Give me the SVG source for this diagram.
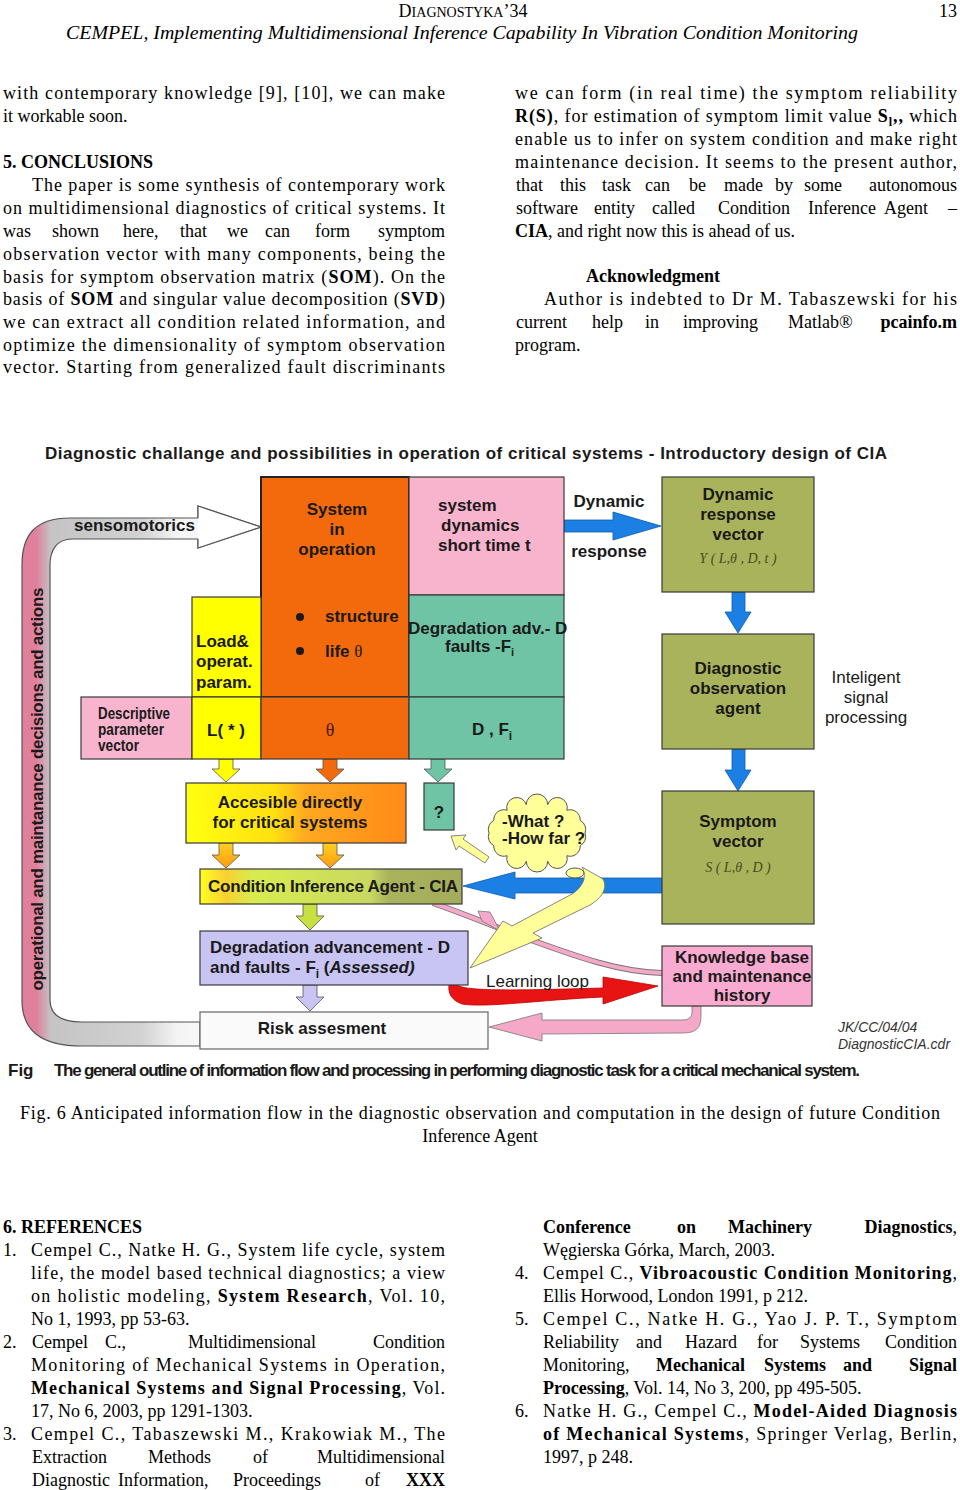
<svg xmlns="http://www.w3.org/2000/svg" width="960" height="1490" viewBox="0 0 960 1490">
<style>
.ser{font-family:"Liberation Serif","Times New Roman",serif;font-size:18px;fill:#000}
.b{font-weight:bold}
.dg{font-family:"Liberation Sans",Arial,sans-serif;font-weight:bold;font-size:17px;fill:#1a1a1a}
.dn{font-family:"Liberation Sans",Arial,sans-serif;font-size:17px;fill:#1a1a1a}
.box{stroke:#3a3a3a;stroke-width:1.2}
.blue{fill:#1b7fe3;stroke:#0d5cb0;stroke-width:0.8}
.sm{stroke:#555;stroke-width:0.8}
.math{font-family:"Liberation Serif","Times New Roman",serif;font-style:italic;font-size:14px}
</style>
<defs>
<linearGradient id="loopG" gradientUnits="userSpaceOnUse" x1="22" y1="0" x2="261" y2="0">
<stop offset="0" stop-color="#e0809c"/><stop offset="0.06" stop-color="#e0809c"/><stop offset="0.12" stop-color="#c4c4c4"/><stop offset="0.5" stop-color="#d2d2d2"/><stop offset="0.65" stop-color="#f4f4f4"/><stop offset="1" stop-color="#ffffff"/>
</linearGradient>
<linearGradient id="accG" x1="0" y1="0" x2="1" y2="0">
<stop offset="0" stop-color="#ffff10"/><stop offset="0.4" stop-color="#ffe010"/><stop offset="0.55" stop-color="#ffa820"/><stop offset="1" stop-color="#ff8a18"/>
</linearGradient>
<linearGradient id="ciaG" x1="0" y1="0" x2="1" y2="0">
<stop offset="0" stop-color="#ffff20"/><stop offset="0.1" stop-color="#f8d030"/><stop offset="0.2" stop-color="#d8ec50"/><stop offset="0.65" stop-color="#c8d860"/><stop offset="0.72" stop-color="#a9b35c"/><stop offset="1" stop-color="#a4ac5c"/>
</linearGradient>
<linearGradient id="oyG" x1="0" y1="0" x2="0" y2="1">
<stop offset="0" stop-color="#ffd020"/><stop offset="1" stop-color="#ff9a10"/>
</linearGradient>
</defs>
<rect width="960" height="1490" fill="#fff"/>

<!-- header -->
<g id="header">
<text x="463" y="17" text-anchor="middle" class="ser">D<tspan font-size="14">IAGNOSTYKA</tspan>’34</text>
<text x="957" y="17" text-anchor="end" class="ser">13</text>
<text x="66" y="39" class="ser" font-style="italic" textLength="792" lengthAdjust="spacingAndGlyphs">CEMPEL, Implementing Multidimensional Inference Capability In Vibration Condition Monitoring</text>
</g>

<!-- left column -->
<g id="leftcol" class="ser">
<text x="3" y="99" textLength="442" lengthAdjust="spacing">with contemporary knowledge [9], [10], we can make</text>
<text x="3" y="122">it workable soon.</text>
<text x="3" y="168" class="b">5. CONCLUSIONS</text>
<text x="32" y="191" textLength="413" lengthAdjust="spacing">The paper is some synthesis of contemporary work</text>
<text x="3" y="214" textLength="442" lengthAdjust="spacing">on multidimensional diagnostics of critical systems. It</text>
<text y="237"><tspan x="3">was</tspan><tspan x="52">shown</tspan><tspan x="123">here,</tspan><tspan x="180">that</tspan><tspan x="227">we</tspan><tspan x="265">can</tspan><tspan x="315">form</tspan></text>
<text x="445" y="237" text-anchor="end">symptom</text>
<text x="3" y="260" textLength="442" lengthAdjust="spacing">observation vector with many components, being the</text>
<text x="3" y="283" textLength="442" lengthAdjust="spacing">basis for symptom observation matrix (<tspan class="b">SOM</tspan>). On the</text>
<text x="3" y="305" textLength="442" lengthAdjust="spacing">basis of <tspan class="b">SOM</tspan> and singular value decomposition (<tspan class="b">SVD</tspan>)</text>
<text x="3" y="328" textLength="442" lengthAdjust="spacing">we can extract all condition related information, and</text>
<text x="3" y="351" textLength="442" lengthAdjust="spacing">optimize the dimensionality of symptom observation</text>
<text x="3" y="373" textLength="442" lengthAdjust="spacing">vector. Starting from generalized fault discriminants</text>
</g>

<!-- right column -->
<g id="rightcol" class="ser">
<text x="515" y="99" textLength="442" lengthAdjust="spacing">we can form (in real time) the symptom reliability</text>
<text x="515" y="122" textLength="442" lengthAdjust="spacing"><tspan class="b">R(S)</tspan>, for estimation of symptom limit value <tspan class="b">S<tspan font-size="12" dy="4">l</tspan><tspan dy="-4">,,</tspan></tspan> which</text>
<text x="515" y="145" textLength="442" lengthAdjust="spacing">enable us to infer on system condition and make right</text>
<text x="515" y="168" textLength="442" lengthAdjust="spacing">maintenance decision. It seems to the present author,</text>
<text y="191"><tspan x="516">that</tspan><tspan x="560">this</tspan><tspan x="602">task</tspan><tspan x="645">can</tspan><tspan x="689">be</tspan><tspan x="724">made</tspan><tspan x="775">by</tspan><tspan x="804">some</tspan></text>
<text x="957" y="191" text-anchor="end">autonomous</text>
<text y="214"><tspan x="516">software</tspan><tspan x="594">entity</tspan><tspan x="652">called</tspan><tspan x="718">Condition</tspan><tspan x="808">Inference</tspan><tspan x="884">Agent</tspan></text>
<text x="957" y="214" text-anchor="end">–</text>
<text x="515" y="237"><tspan class="b">CIA</tspan>, and right now this is ahead of us.</text>
<text x="586" y="282" class="b">Acknowledgment</text>
<text x="544" y="305" textLength="413" lengthAdjust="spacing">Author is indebted to Dr M. Tabaszewski for his</text>
<text y="328"><tspan x="516">current</tspan><tspan x="592">help</tspan><tspan x="645">in</tspan><tspan x="683">improving</tspan><tspan x="788">Matlab®</tspan></text>
<text x="957" y="328" text-anchor="end" class="b">pcainfo.m</text>
<text x="515" y="351">program.</text>
</g>

<!-- diagram title -->
<text x="45" y="459" class="dg" textLength="842" lengthAdjust="spacing">Diagnostic challange and possibilities  in operation of critical systems -  Introductory design of CIA</text>

<!-- connectors -->
<g id="connectors">
<path d="M200,1046 L82,1046 C40,1046 22,1030 22,1000 L22,565 C22,535 35,518 70,518 L198,518 L198,506 L261,527 L198,548 L198,539 L72,539 C57,539 50,550 50,565 L50,1000 C50,1014 60,1022 82,1022 L200,1022 Z" fill="url(#loopG)" stroke="#555" stroke-width="1.2"/>
<path d="M198,518 L198,506 L261,527 L198,548 L198,539" fill="#fff" stroke="#555" stroke-width="1.2"/>
<polygon class="blue" points="385,521 418,521 418,513 449,527 418,541 418,533 385,533"/>
<polygon class="blue" points="564,520 613,520 613,512 661,526 613,540 613,532 564,532"/>
<polygon class="blue" points="732,592 745,592 745,612 751,612 738,633 725,612 732,612"/>
<polygon class="blue" points="732,749 745,749 745,770 751,770 738,791 725,770 732,770"/>
<polygon class="blue" points="263,645 274,645 274,636 288,650 274,664 274,656 263,656"/>
<polygon class="blue" points="407,645 420,645 420,639 437,650 420,662 420,656 407,656"/>
<polygon class="blue" points="479,606 488,606 488,592 494,592 483,578 472,592 479,592"/>
<polygon class="blue" points="662,878 515,878 515,872 463,886 515,899 515,893 662,893"/>
<polygon class="sm" fill="#ffff00" points="219,759 233,759 233,769 240,769 226,782 212,769 219,769"/>
<polygon class="sm" fill="#f26a0c" points="323,759 337,759 337,769 344,769 330,782 316,769 323,769"/>
<polygon class="sm" fill="#6fc4a6" points="431,759 445,759 445,769 452,769 438,782 424,769 431,769"/>
<polygon class="sm" fill="url(#oyG)" points="219,843 233,843 233,855 240,855 226,868 212,855 219,855"/>
<polygon class="sm" fill="url(#oyG)" points="323,843 337,843 337,855 344,855 330,868 316,855 323,855"/>
<polygon class="sm" fill="#c8e040" points="303,904 317,904 317,916 324,916 310,930 296,916 303,916"/>
<polygon class="sm" fill="#c8c4f4" points="303,985 317,985 317,997 324,997 310,1011 296,997 303,997"/>
<path d="M433,903 C470,916 490,925 520,936 C580,958 620,972 662,973" fill="none" stroke="#777" stroke-width="6"/>
<path d="M433,903 C470,916 490,925 520,936 C580,958 620,972 662,973" fill="none" stroke="#f5a8c8" stroke-width="4"/>
<polygon points="478,911 482,921 500,931 490,912" fill="#f5a8c8" stroke="#777" stroke-width="0.8"/>
<path d="M449,985 L458,985 C464,992 530,990 603,988 L603,977 L658,986 L603,1004 L603,997 C540,1000 485,1008 462,1004 C451,1000 448,993 449,985 Z" fill="#e81414" stroke="#b00" stroke-width="0.8"/>
<path d="M692,1006 L701,1006 L701,1016 C701,1030 694,1033 682,1033 L542,1034 L542,1041 L489,1027 L542,1013 L542,1020 L682,1020 C689,1020 692,1017 692,1012 Z" fill="#f5a8c8" stroke="#777" stroke-width="0.8"/>
<path d="M582,867 L603,879 C608,888 602,898 590,905 L533,933 L542,938 L470,968 L503,921 L512,926 L572,894 C584,886 587,876 582,867 Z" fill="#ffff99" stroke="#666" stroke-width="0.8"/>
<polygon points="451,836 466,835 463,839 489,857 485,863 459,846 456,850" fill="#ffff99" stroke="#666" stroke-width="0.8"/>
</g>

<!-- nodes -->
<g id="n-system">
<rect x="261" y="477" width="148" height="220" fill="#f26a0c" stroke="#222" stroke-width="2"/>
<text class="dg" x="337" y="515" text-anchor="middle" fill="#4a1800">System</text>
<text class="dg" x="337" y="535" text-anchor="middle" fill="#4a1800">in</text>
<text class="dg" x="337" y="555" text-anchor="middle" fill="#4a1800">operation</text>
<circle cx="300" cy="617" r="4" fill="#1a1a1a"/>
<circle cx="300" cy="651" r="4" fill="#1a1a1a"/>
<text class="dg" x="325" y="622" fill="#4a1800">structure</text>
<text class="dg" x="325" y="657" fill="#4a1800">life <tspan font-family="Liberation Serif,serif" font-weight="normal">θ</tspan></text>
</g>
<g id="n-dynamics">
<rect x="409" y="477" width="155" height="118" fill="#f8b4cc" class="box"/>
<text class="dg" x="438" y="511" fill="#5a1030">system</text>
<text class="dg" x="441" y="531" fill="#5a1030">dynamics</text>
<text class="dg" x="438" y="551" fill="#5a1030">short time  t</text>
</g>
<g id="n-degradation">
<rect x="409" y="595" width="155" height="102" fill="#6fc4a6" class="box"/>
<text class="dg" x="408" y="634" font-size="15" fill="#1a1a40">Degradation adv.- D</text>
<text class="dg" x="445" y="652" font-size="15" fill="#1a1a40">faults -F<tspan font-size="11" dy="4">i</tspan></text>
</g>
<g id="n-load">
<rect x="192" y="597" width="69" height="100" fill="#ffff00" class="box"/>
<text class="dg" x="196" y="647">Load&amp;</text>
<text class="dg" x="196" y="667">operat.</text>
<text class="dg" x="196" y="688">param.</text>
</g>
<g id="n-descriptive">
<rect x="81" y="697" width="111" height="62" fill="#f8b4cc" class="box"/>
<text class="dg" x="98" y="719" font-size="10.5" fill="#4a1040" textLength="72" lengthAdjust="spacingAndGlyphs">Descriptive</text>
<text class="dg" x="98" y="735" font-size="10.5" fill="#4a1040" textLength="66" lengthAdjust="spacingAndGlyphs">parameter</text>
<text class="dg" x="98" y="751" font-size="10.5" fill="#4a1040" textLength="41" lengthAdjust="spacingAndGlyphs">vector</text>
</g>
<g id="n-L">
<rect x="192" y="697" width="69" height="62" fill="#ffff00" class="box"/>
<text class="dg" x="226" y="736" text-anchor="middle">L( * )</text>
</g>
<g id="n-theta">
<rect x="261" y="697" width="148" height="62" fill="#f26a0c" class="box"/>
<text x="330" y="736" text-anchor="middle" font-family="Liberation Serif,serif" font-size="18" fill="#4a1800">θ</text>
</g>
<g id="n-DF">
<rect x="409" y="697" width="155" height="62" fill="#6fc4a6" class="box"/>
<text class="dg" x="472" y="735" fill="#1a1a40">D , F<tspan font-size="12" dy="5">i</tspan></text>
</g>
<g id="n-dynresp">
<rect x="662" y="477" width="152" height="115" fill="#a9b35c" class="box"/>
<text class="dg" x="738" y="500" text-anchor="middle">Dynamic</text>
<text class="dg" x="738" y="520" text-anchor="middle">response</text>
<text class="dg" x="738" y="540" text-anchor="middle">vector</text>
<text class="math" x="738" y="563" text-anchor="middle" fill="#4a4a20">Y ( L,θ , D, t )</text>
</g>
<g id="n-diagobs">
<rect x="662" y="634" width="152" height="115" fill="#a9b35c" class="box"/>
<text class="dg" x="738" y="674" text-anchor="middle">Diagnostic</text>
<text class="dg" x="738" y="694" text-anchor="middle">observation</text>
<text class="dg" x="738" y="714" text-anchor="middle">agent</text>
</g>
<g id="n-symptom">
<rect x="662" y="791" width="152" height="133" fill="#a9b35c" class="box"/>
<text class="dg" x="738" y="827" text-anchor="middle">Symptom</text>
<text class="dg" x="738" y="847" text-anchor="middle">vector</text>
<text class="math" x="738" y="872" text-anchor="middle" fill="#4a4a20">S ( L,θ , D )</text>
</g>
<g id="n-question">
<rect x="424" y="783" width="30" height="47" fill="#6fc4a6" class="box"/>
<text class="dg" x="439" y="818" text-anchor="middle" fill="#1a1a40">?</text>
</g>
<g id="n-accessible">
<rect x="186" y="783" width="220" height="60" fill="url(#accG)" class="box"/>
<text class="dg" x="290" y="808" text-anchor="middle" fill="#2a1a00">Accesible directly</text>
<text class="dg" x="290" y="828" text-anchor="middle" fill="#2a1a00">for critical systems</text>
</g>
<g id="n-cia">
<rect x="200" y="869" width="262" height="35" fill="url(#ciaG)" class="box"/>
<text class="dg" x="208" y="892" font-size="16" textLength="250" lengthAdjust="spacing">Condition Inference Agent - CIA</text>
</g>
<g id="n-assessed">
<rect x="200" y="931" width="268" height="54" fill="#c8c4f4" class="box"/>
<text class="dg" x="210" y="953">Degradation advancement - D</text>
<text class="dg" x="210" y="973">and faults - F<tspan font-size="12" dy="5">i</tspan><tspan dy="-5"> (</tspan><tspan font-style="italic">Assessed)</tspan></text>
</g>
<g id="n-risk">
<rect x="200" y="1012" width="288" height="37" fill="#fafafa" stroke="#666" stroke-width="1.2"/>
<text class="dg" x="322" y="1034" text-anchor="middle">Risk assesment</text>
</g>
<g id="n-knowledge">
<rect x="662" y="946" width="150" height="60" fill="#f8aad0" class="box"/>
<text class="dg" x="742" y="963" text-anchor="middle" font-size="16" fill="#4a1030">Knowledge base</text>
<text class="dg" x="742" y="982" text-anchor="middle" font-size="16" fill="#4a1030">and maintenance</text>
<text class="dg" x="742" y="1001" text-anchor="middle" font-size="16" fill="#4a1030">history</text>
</g>
<g id="n-cloud">
<path d="M585,833 A10,10 0 0 1 580.2,845.6 A10,10 0 0 1 566.9,855.7 A10,10 0 0 1 547.7,861.3 A10,10 0 0 1 526.3,861.3 A10,10 0 0 1 507.1,855.7 A10,10 0 0 1 493.8,845.6 A10,10 0 0 1 489,833 A10,10 0 0 1 493.8,820.4 A10,10 0 0 1 507.1,810.3 A10,10 0 0 1 526.3,804.7 A10,10 0 0 1 547.7,804.7 A10,10 0 0 1 566.9,810.3 A10,10 0 0 1 580.2,820.4 A10,10 0 0 1 585,833 Z" fill="#ffff99" stroke="#555" stroke-width="1"/>
<ellipse cx="575" cy="873" rx="9" ry="5" fill="#ffff99" stroke="#555" stroke-width="1"/>
<text class="dg" x="502" y="827" font-size="14">-What ?</text>
<text class="dg" x="502" y="844" font-size="14">-How far ?</text>
</g>

<!-- free labels -->
<g id="labels">
<text class="dg" x="74" y="531" font-size="16" fill="#333">sensomotorics</text>
<text class="dg" transform="translate(43,789) rotate(-90)" text-anchor="middle" font-size="16" fill="#333" textLength="403" lengthAdjust="spacing">operational and maintanance decisions and actions</text>
<text class="dg" x="609" y="507" text-anchor="middle" font-size="15">Dynamic</text>
<text class="dg" x="609" y="557" text-anchor="middle" font-size="15">response</text>
<text class="dn" x="866" y="683" text-anchor="middle">Inteligent</text>
<text class="dn" x="866" y="703" text-anchor="middle">signal</text>
<text class="dn" x="866" y="723" text-anchor="middle">processing</text>
<text class="dn" x="486" y="987" fill="#222">Learning loop</text>
<text x="838" y="1032" font-family="Liberation Sans,Arial,sans-serif" font-style="italic" font-size="14" fill="#333">JK/CC/04/04</text>
<text x="838" y="1049" font-family="Liberation Sans,Arial,sans-serif" font-style="italic" font-size="14" fill="#333">DiagnosticCIA.cdr</text>
<text class="dg" x="8" y="1076" font-size="13">Fig</text>
<text class="dg" x="54" y="1076" font-size="11.4" textLength="806" lengthAdjust="spacing">The general outline of information  flow and processing in performing  diagnostic task for a critical mechanical system.</text>
</g>

<!-- figure caption -->
<g id="caption" class="ser">
<text x="20" y="1119" textLength="920" lengthAdjust="spacing">Fig. 6 Anticipated information flow in the diagnostic observation and computation in the design of future Condition</text>
<text x="480" y="1142" text-anchor="middle">Inference Agent</text>
</g>

<!-- references -->
<g id="refs-left" class="ser">
<text x="3" y="1233" class="b">6. REFERENCES</text>
<text x="3" y="1256">1.</text>
<text x="31" y="1256" textLength="414" lengthAdjust="spacing">Cempel C., Natke H. G., System life cycle, system</text>
<text x="31" y="1279" textLength="414" lengthAdjust="spacing">life, the model based technical diagnostics; a view</text>
<text x="31" y="1302" textLength="414" lengthAdjust="spacing">on holistic modeling, <tspan class="b">System Research</tspan>, Vol. 10,</text>
<text x="31" y="1325">No 1, 1993, pp 53-63.</text>
<text x="3" y="1348">2.</text>
<text y="1348"><tspan x="32">Cempel</tspan><tspan x="105">C.,</tspan><tspan x="188">Multidimensional</tspan></text>
<text x="445" y="1348" text-anchor="end">Condition</text>
<text x="31" y="1371" textLength="414" lengthAdjust="spacing">Monitoring of Mechanical Systems in Operation,</text>
<text x="31" y="1394" textLength="414" lengthAdjust="spacing"><tspan class="b">Mechanical Systems and Signal Processing</tspan>, Vol.</text>
<text x="31" y="1417">17, No 6, 2003, pp 1291-1303.</text>
<text x="3" y="1440">3.</text>
<text x="31" y="1440" textLength="414" lengthAdjust="spacing">Cempel C., Tabaszewski M., Krakowiak M., The</text>
<text y="1463"><tspan x="32">Extraction</tspan><tspan x="148">Methods</tspan><tspan x="253">of</tspan></text>
<text x="445" y="1463" text-anchor="end">Multidimensional</text>
<text y="1486"><tspan x="32">Diagnostic</tspan><tspan x="118">Information,</tspan><tspan x="233">Proceedings</tspan><tspan x="365">of</tspan></text>
<text x="445" y="1486" text-anchor="end" class="b">XXX</text>
</g>
<g id="refs-right" class="ser">
<text y="1233" class="b"><tspan x="543">Conference</tspan><tspan x="677">on</tspan><tspan x="728">Machinery</tspan></text>
<text x="957" y="1233" text-anchor="end"><tspan class="b">Diagnostics</tspan>,</text>
<text x="543" y="1256">Węgierska Górka, March, 2003.</text>
<text x="515" y="1279">4.</text>
<text x="543" y="1279" textLength="414" lengthAdjust="spacing">Cempel C., <tspan class="b">Vibroacoustic Condition Monitoring</tspan>,</text>
<text x="543" y="1302">Ellis Horwood, London 1991, p 212.</text>
<text x="515" y="1325">5.</text>
<text x="543" y="1325" textLength="414" lengthAdjust="spacing">Cempel C., Natke H. G., Yao J. P. T., Symptom</text>
<text y="1348"><tspan x="543">Reliability</tspan><tspan x="636">and</tspan><tspan x="685">Hazard</tspan><tspan x="757">for</tspan><tspan x="800">Systems</tspan></text>
<text x="957" y="1348" text-anchor="end">Condition</text>
<text y="1371"><tspan x="543">Monitoring,</tspan><tspan x="656" class="b">Mechanical</tspan><tspan x="764" class="b">Systems</tspan><tspan x="843" class="b">and</tspan></text>
<text x="957" y="1371" text-anchor="end" class="b">Signal</text>
<text x="543" y="1394"><tspan class="b">Processing</tspan>, Vol. 14, No 3, 200, pp 495-505.</text>
<text x="515" y="1417">6.</text>
<text x="543" y="1417" textLength="414" lengthAdjust="spacing">Natke H. G., Cempel C., <tspan class="b">Model-Aided Diagnosis</tspan></text>
<text x="543" y="1440" textLength="414" lengthAdjust="spacing"><tspan class="b">of Mechanical Systems</tspan>, Springer Verlag, Berlin,</text>
<text x="543" y="1463">1997, p 248.</text>
</g>
</svg>
